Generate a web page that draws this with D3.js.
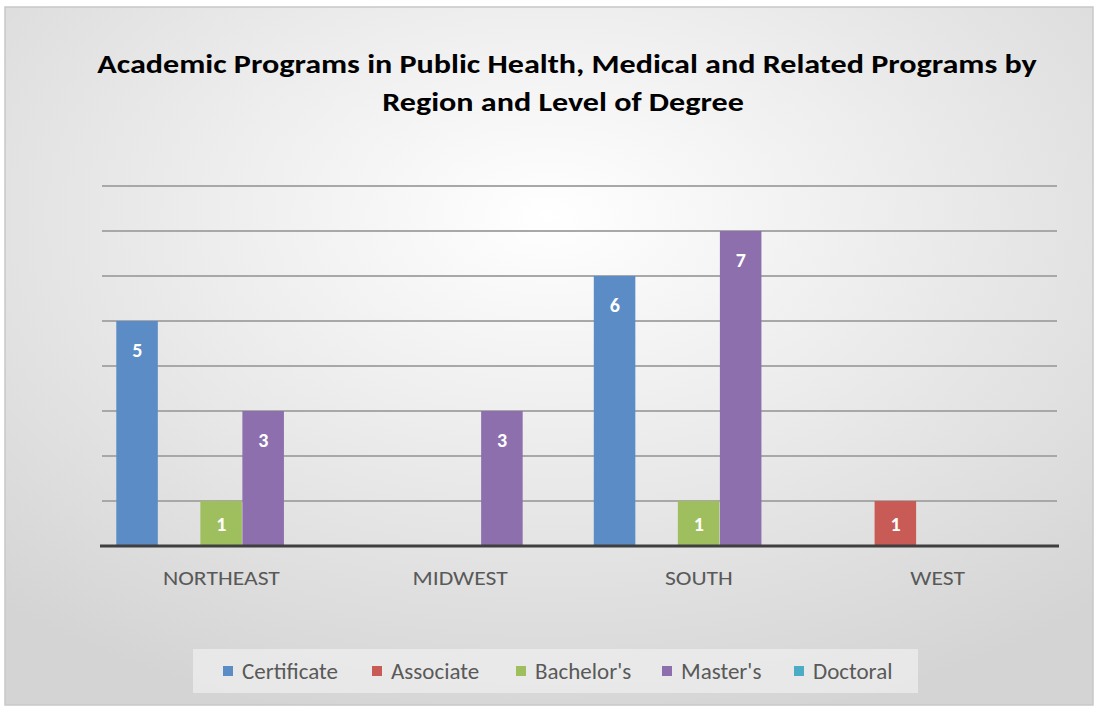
<!DOCTYPE html>
<html>
<head>
<meta charset="utf-8">
<script src="https://cdn.jsdelivr.net/npm/d3@7"></script>
<style>
  body { margin: 0; background: #fff; }
  text { font-family: Carlito, Lato, "Open Sans", sans-serif; }
</style>
</head>
<body>
<div id="chart"></div>
<script>
// data
var regions = ["NORTHEAST", "MIDWEST", "SOUTH", "WEST"];
var degrees = ["Certificate", "Associate", "Bachelor's", "Master's", "Doctoral"];
var certificate = [5, 0, 6, 0];
var associate   = [0, 0, 0, 1];
var bachelors   = [1, 0, 1, 0];
var masters     = [3, 3, 7, 0];
var doctoral    = [0, 0, 0, 0];
var yTicks = [0, 1, 2, 3, 4, 5, 6, 7, 8];
var colors = ["#5b8cc6", "#c95b57", "#9fbf5f", "#8c6fac", "#4bacc6"];

var seriesValues = [certificate, associate, bachelors, masters, doctoral];

var width = 1098, height = 707;
var margin = {top: 186, right: 40, bottom: 161, left: 102};

var svg = d3.select("#chart").append("svg")
	.attr("width", width)
	.attr("height", height);

// background
var defs = svg.append("defs");
var grad = defs.append("radialGradient")
	.attr("id", "bg")
	.attr("cx", "50%").attr("cy", "30%").attr("r", "75%");
grad.append("stop").attr("offset", "0%").attr("stop-color", "#ffffff");
grad.append("stop").attr("offset", "100%").attr("stop-color", "#d4d4d4");

svg.append("rect")
	.attr("x", 0).attr("y", 0).attr("width", width).attr("height", height)
	.attr("fill", "#fff");
svg.append("rect")
	.attr("x", 5).attr("y", 7).attr("width", 1088).attr("height", 698)
	.attr("fill", "url(#bg)")
	.attr("stroke", "#c8c8c8").attr("stroke-width", 1.5);

var x0 = d3.scaleBand()
	.domain(regions)
	.range([margin.left, width - margin.right - 1]);

var x1 = d3.scaleBand()
	.domain(degrees)
	.range([0, x0.bandwidth()])
	.paddingOuter(0.34);

var y = d3.scaleLinear()
	.domain([0, 8])
	.range([height - margin.bottom, margin.top]);

// gridlines
svg.append("g")
	.selectAll("line")
	.data(yTicks.slice(1))
	.enter().append("line")
	.attr("x1", margin.left)
	.attr("x2", width - margin.right - 1)
	.attr("y1", function(d){ return y(d); })
	.attr("y2", function(d){ return y(d); })
	.attr("stroke", "#a8a8a8")
	.attr("stroke-width", 2);

// bars
var rows = [];
regions.forEach(function(r, i){
	degrees.forEach(function(dg, j){
		var v = seriesValues[j][i];
		if(v > 0) rows.push({region: r, degree: dg, value: v, color: colors[j]});
	});
});

var bars = svg.append("g")
	.selectAll("g")
	.data(rows)
	.enter().append("g");

bars.append("rect")
	.attr("x", function(d){ return x0(d.region) + x1(d.degree); })
	.attr("y", function(d){ return y(d.value); })
	.attr("width", x1.bandwidth() - 0.5)
	.attr("height", function(d){ return y(0) - y(d.value); })
	.attr("fill", function(d){ return d.color; });

bars.append("text")
	.attr("x", function(d){ return x0(d.region) + x1(d.degree) + x1.bandwidth() / 2; })
	.attr("y", function(d){
		var mid = (y(d.value) + y(0)) / 2;
		return Math.min(y(d.value) + 29, mid) + 7;
	})
	.attr("text-anchor", "middle")
	.attr("fill", "#fff")
	.attr("font-weight", "bold")
	.attr("font-size", 20)
	.text(function(d){ return d.value; });

// baseline
svg.append("line")
	.attr("x1", margin.left - 2)
	.attr("x2", width - margin.right + 1)
	.attr("y1", y(0)).attr("y2", y(0))
	.attr("stroke", "#3f3f3f")
	.attr("stroke-width", 3);

// x axis labels
var xAxis = d3.axisBottom(x0).tickSize(0);
var xg = svg.append("g")
	.attr("transform", "translate(0," + y(0) + ")")
	.call(xAxis);
xg.select(".domain").remove();
xg.selectAll("text")
	.attr("y", 39)
	.attr("dy", null)
	.attr("font-size", 21)
	.attr("fill", "#595959")
	.style("font-family", "Carlito, Lato, 'Open Sans', sans-serif");
var neText = xg.select("text").node();
var axisScale = 117 / neText.getComputedTextLength();
xg.selectAll("text").attr("transform", "scale(" + axisScale + ",1)")
	.attr("x", 0);

// title
var titleLines = ["Academic Programs in Public Health, Medical and Related Programs by",
	"Region and Level of Degree"];
var title = svg.append("g")
	.selectAll("text")
	.data(titleLines)
	.enter().append("text")
	.attr("text-anchor", "middle")
	.attr("font-weight", "bold")
	.attr("font-size", 26)
	.attr("fill", "#000")
	.text(function(d){ return d; });
var titleScale = 940 / title.node().getComputedTextLength();
title.attr("transform", function(d, i){
	return "translate(" + (i == 0 ? 567 : 563) + "," + (i == 0 ? 73 : 111) + ") scale(" + titleScale + ",1)";
});

// legend
svg.append("rect")
	.attr("x", 193).attr("y", 649).attr("width", 725).attr("height", 44)
	.attr("fill", "#f0f0f0").attr("opacity", 0.7);

var legendSquareX = [223, 372, 516, 662, 794];
var legend = svg.append("g")
	.selectAll("g")
	.data(degrees)
	.enter().append("g")
	.attr("transform", function(d, i){ return "translate(" + legendSquareX[i] + ",671)"; });

legend.append("rect")
	.attr("x", 0).attr("y", -5)
	.attr("width", 10).attr("height", 10)
	.attr("fill", function(d, i){ return colors[i]; });

legend.append("text")
	.attr("x", 19).attr("y", 8)
	.attr("font-size", 23)
	.attr("fill", "#595959")
	.text(function(d){ return d; });
</script>
</body>
</html>
